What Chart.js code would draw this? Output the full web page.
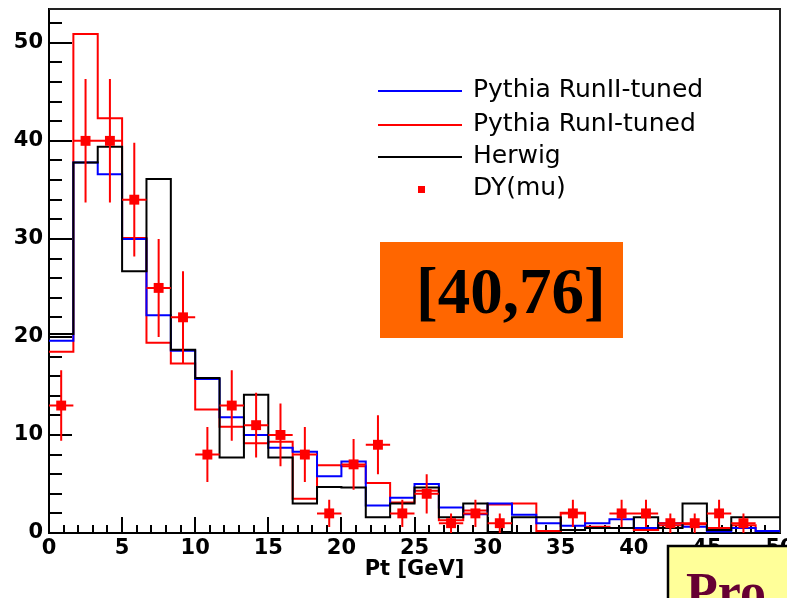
<!DOCTYPE html>
<html>
<head>
<meta charset="utf-8">
<script src="https://cdn.jsdelivr.net/npm/chart.js@4.4.1/dist/chart.umd.min.js"></script>
<style>
  body { margin: 0; background: #fff; }
  canvas { display: block; }
</style>
</head>
<body>
<canvas id="chart" width="787" height="598"></canvas>
<script>
// 30 bins from 0 to 50 GeV
const binEdges = [0, 1.667, 3.333, 5, 6.667, 8.333, 10, 11.667, 13.333, 15, 16.667, 18.333,
    20, 21.667, 23.333, 25, 26.667, 28.333, 30, 31.667, 33.333, 35, 36.667, 38.333,
    40, 41.667, 43.333, 45, 46.667, 48.333, 50];

const pythiaRunII = [19.6, 37.8, 36.6, 30.0, 22.2, 18.6, 15.7, 11.8, 10.0, 8.7, 8.3, 5.8, 7.3, 2.8, 3.6,
    5.0, 2.6, 1.9, 3.0, 1.85, 1.0, 0.75, 1.0, 1.4, 0.5, 1.0, 0.65, 0.15, 0.5, 0.2];
const pythiaRunI = [18.5, 50.9, 42.3, 30.1, 19.4, 17.3, 12.6, 10.85, 9.15, 9.3, 3.5, 6.9, 6.8, 5.1, 3.1,
    4.3, 1.3, 2.3, 2.9, 3.0, 0.2, 2.07, 0.65, 0.5, 0.3, 0.8, 0.9, 0.5, 0.8, 0.2];
const herwig = [20.3, 37.8, 39.4, 26.7, 36.1, 18.7, 15.8, 7.7, 14.1, 7.7, 3.0, 4.7, 4.65, 1.6, 3.0,
    4.65, 1.6, 3.0, 0.1, 1.6, 1.6, 0.3, 0.5, 0.5, 1.6, 0.5, 3.0, 0.3, 1.6, 1.6];

// DY(mu) data: counts and error bar half-heights (null = empty bin)
const dyCounts = [13, 40, 40, 34, 25, 22, 8, 13, 11, 10, 8, 2, 7, 9, 2,
    4, 1, 2, 1, null, null, 2, null, 2, 2, 1, 1, 2, 1, null];
const dyErrors = [3.6, 6.3, 6.3, 5.8, 5.0, 4.7, 2.8, 3.6, 3.3, 3.2, 2.8, 1.4, 2.6, 3.0, 1.4,
    2.0, 1.0, 1.4, 1.0, null, null, 1.4, null, 1.4, 1.4, 1.0, 1.0, 1.4, 1.0, null];

const yMax = 53.45;
const massWindow = '[40,76]';

function steps(values) {
    const pts = values.map((v, i) => ({ x: binEdges[i], y: v }));
    pts.push({ x: binEdges[binEdges.length - 1], y: values[values.length - 1] });
    return pts;
}

const dyPoints = [];
dyCounts.forEach((v, i) => {
    if (v !== null) {
        dyPoints.push({ x: (binEdges[i] + binEdges[i + 1]) / 2, y: v, lo: binEdges[i], hi: binEdges[i + 1], err: dyErrors[i] });
    }
});

function histDataset(label, values, color, order) {
    return {
        type: 'line',
        label: label,
        data: steps(values),
        borderColor: color,
        borderWidth: 2,
        pointRadius: 0,
        stepped: 'before',
        fill: false,
        order: order
    };
}

// ROOT style inward ticks + frame
const rootFrame = {
    id: 'rootFrame',
    beforeDatasetsDraw(chart) {
        const { ctx, chartArea, scales: { x, y } } = chart;
        ctx.save();
        ctx.strokeStyle = '#000';
        ctx.lineWidth = 2;
        ctx.beginPath();
        for (let v = 0; v <= yMax; v += 2) {
            const py = Math.round(y.getPixelForValue(v));
            const len = (v % 10 === 0) ? 23 : 13;
            ctx.moveTo(chartArea.left, py);
            ctx.lineTo(chartArea.left + len, py);
        }
        for (let v = 0; v <= 50; v += 1) {
            const px = Math.round(x.getPixelForValue(v));
            const len = (v % 5 === 0) ? 16 : 8;
            ctx.moveTo(px, chartArea.bottom);
            ctx.lineTo(px, chartArea.bottom - len);
        }
        ctx.stroke();
        ctx.strokeStyle = '#222';
        ctx.beginPath();
        ctx.moveTo(chartArea.left, chartArea.top);
        ctx.lineTo(chartArea.right, chartArea.top);
        ctx.lineTo(chartArea.right, chartArea.bottom);
        ctx.stroke();
        ctx.restore();
    }
};

const errorBars = {
    id: 'errorBars',
    afterDatasetsDraw(chart) {
        const { ctx, chartArea, scales: { x, y } } = chart;
        ctx.save();
        ctx.beginPath();
        ctx.rect(chartArea.left, chartArea.top, chartArea.right - chartArea.left, chartArea.bottom - chartArea.top);
        ctx.clip();
        ctx.strokeStyle = '#ff0000';
        ctx.lineWidth = 2;
        ctx.beginPath();
        dyPoints.forEach(p => {
            const px = x.getPixelForValue(p.x);
            const py = y.getPixelForValue(p.y);
            ctx.moveTo(px, y.getPixelForValue(p.y + p.err));
            ctx.lineTo(px, y.getPixelForValue(Math.max(0, p.y - p.err)));
            ctx.moveTo(x.getPixelForValue(p.lo), py);
            ctx.lineTo(x.getPixelForValue(p.hi), py);
        });
        ctx.stroke();
        ctx.restore();
    }
};

const overlays = {
    id: 'overlays',
    afterDraw(chart) {
        const ctx = chart.ctx;
        const ds = chart.data.datasets;
        ctx.save();
        // legend
        const rows = [91, 125, 157, 189];
        ctx.font = '25px "DejaVu Sans"';
        ctx.textBaseline = 'alphabetic';
        ctx.textAlign = 'left';
        ds.forEach((d, i) => {
            const ry = rows[i];
            if (d.type === 'line') {
                ctx.strokeStyle = d.borderColor;
                ctx.lineWidth = 2;
                ctx.beginPath();
                ctx.moveTo(378, ry);
                ctx.lineTo(462, ry);
                ctx.stroke();
            } else {
                ctx.fillStyle = d.backgroundColor;
                ctx.fillRect(418, ry - 3, 7, 7);
            }
            ctx.fillStyle = '#000';
            ctx.fillText(d.label, 473, ry + 6);
        });
        // mass window box
        ctx.fillStyle = '#ff6600';
        ctx.fillRect(380, 242, 243, 96);
        ctx.fillStyle = '#000';
        ctx.font = 'bold 65px "Liberation Serif"';
        ctx.fillText(massWindow, 416, 313);
        // yellow box bottom right
        ctx.fillStyle = '#ffff99';
        ctx.fillRect(668, 546, 140, 70);
        ctx.strokeStyle = '#000';
        ctx.lineWidth = 2.5;
        ctx.strokeRect(668, 546, 140, 70);
        ctx.fillStyle = '#660033';
        ctx.font = 'bold 52px "Liberation Serif"';
        ctx.fillText('Pro', 686, 609);
        ctx.restore();
    }
};

const tickFont = { family: 'DejaVu Sans', size: 21, weight: 'bold' };

const chart = new Chart(document.getElementById('chart').getContext('2d'), {
    data: {
        datasets: [
            histDataset('Pythia RunII-tuned', pythiaRunII, '#0000ff', 2),
            histDataset('Pythia RunI-tuned', pythiaRunI, '#ff0000', 3),
            histDataset('Herwig', herwig, '#000000', 1),
            {
                type: 'scatter',
                label: 'DY(mu)',
                data: dyPoints,
                backgroundColor: '#ff0000',
                borderWidth: 0,
                pointStyle: 'rect',
                pointRadius: 7,
                order: 0
            }
        ]
    },
    options: {
        responsive: false,
        animation: false,
        devicePixelRatio: 1,
        layout: { padding: { top: 9, right: 6, left: 0, bottom: 0 } },
        plugins: {
            legend: { display: false },
            tooltip: { enabled: false }
        },
        scales: {
            x: {
                type: 'linear',
                min: 0,
                max: 50,
                grid: { display: false, drawTicks: false },
                border: { display: true, color: '#000', width: 2 },
                ticks: { stepSize: 5, font: tickFont, color: '#000', padding: 3, maxRotation: 0, includeBounds: false },
                title: { display: true, text: 'Pt [GeV]', font: { family: 'DejaVu Sans', size: 21, weight: 'bold' }, color: '#000', padding: { top: 0, bottom: 16 } },
                afterFit(scale) {
                    scale.height = 65;
                    scale.paddingLeft = 0;
                    scale.paddingRight = 0;
                }
            },
            y: {
                type: 'linear',
                min: 0,
                max: yMax,
                grid: { display: false, drawTicks: false },
                border: { display: true, color: '#000', width: 2 },
                ticks: { stepSize: 10, font: tickFont, color: '#000', padding: 6, includeBounds: false },
                afterFit(scale) {
                    scale.width = 49;
                    scale.paddingTop = 0;
                    scale.paddingBottom = 0;
                }
            }
        }
    },
    plugins: [rootFrame, errorBars, overlays]
});
</script>
</body>
</html>
